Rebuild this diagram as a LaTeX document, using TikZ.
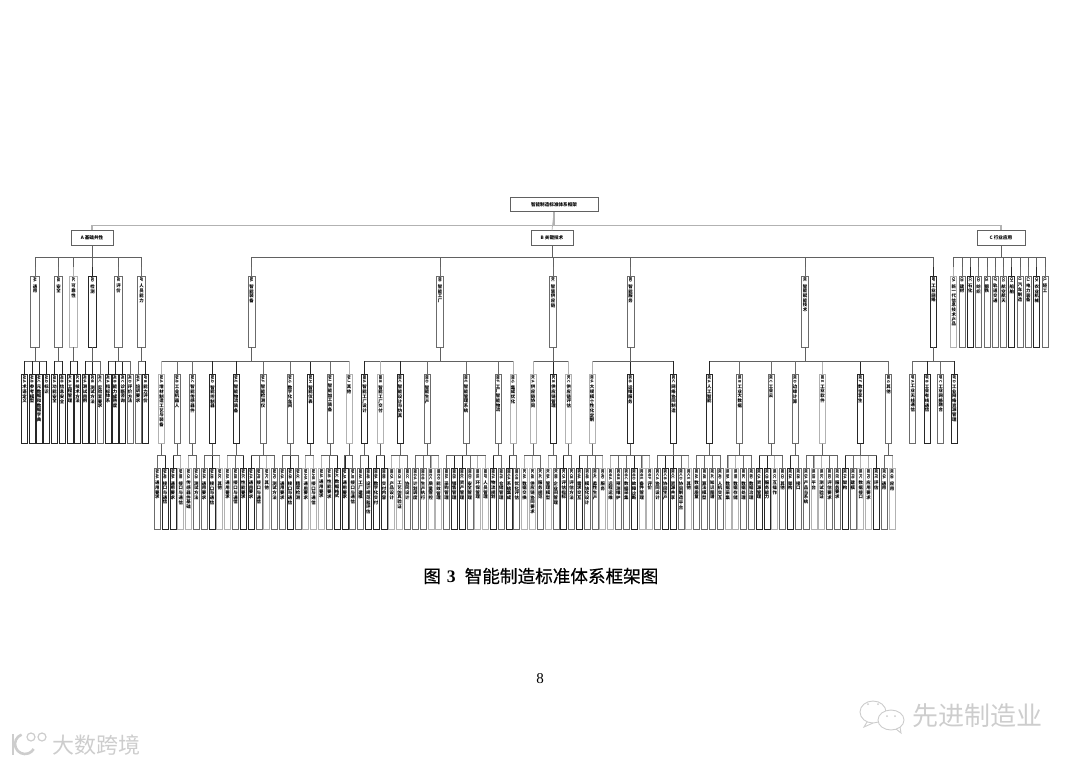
\documentclass[tikz,border=0pt]{standalone}
\usepackage{fontspec}
\usepackage{graphicx}
\setmainfont{Noto Sans CJK SC}
\newfontfamily\numfont{Liberation Serif}
\newfontfamily\capfont[FakeBold=0.5]{Noto Sans CJK SC}
\usetikzlibrary{positioning}
\definecolor{markgray}{RGB}{205,205,205}
% one character per line, code turned on its side
\def\vstack#1{\ifx#1\relax\else\hbox to\hsize{\hss#1\hss}\expandafter\vstack\fi}
\newcommand{\vtxt}[3]{\edef\vtmp{#3}\parbox[t][#1][t]{5pt}{\bfseries\fontsize{4.4}{4.7}\selectfont\kern1pt
  \hbox to\hsize{\hss\rotatebox{-90}{\fontsize{3.8}{4}\selectfont #2}\hss}\kern1pt\expandafter\vstack\vtmp\relax}}
\tikzset{
  dk/.style={draw=black!85},
  md/.style={draw=black!58},
  lt/.style={draw=black!30},
  barline/.style={draw=black!62,line width=0.8pt},
  headbox/.style={draw=black!62,line width=0.7pt,inner sep=0pt,minimum height=14.5pt,font=\bfseries\fontsize{4.6}{5}\selectfont},
  ltwobox/.style={line width=0.7pt,inner sep=0pt,anchor=north},
  lthreebox/.style={line width=0.7pt,inner sep=0pt,anchor=north,minimum width=6pt},
  lfourbox/.style={line width=0.7pt,inner sep=0pt,anchor=north,minimum width=6pt},
}
\begin{document}
\begin{tikzpicture}[x=1pt,y=-1pt,line width=0.7pt]
  \useasboundingbox (0,0) rectangle (1080,764);
  % top of the tree
  \node[headbox,minimum width=88pt] (top) at (554,204.5) {智能制造标准体系框架};
  \node[headbox,minimum width=42pt] (A) at (92,238) {A 基础共性};
  \node[headbox,minimum width=42pt] (B) at (552,238) {B 关键技术};
  \node[headbox,minimum width=48pt] (C) at (1001,238) {C 行业应用};
  \foreach \nm in {A,C}
    \draw[lt,line width=1.1pt] (top.south) -- ++(0,13) -| (\nm.north);
  \draw[lt] (top.south) -- (B.north);
  % second level
  \foreach \up/\nm/\x/\bw/\txt/\sh in {
    A/AA/35/9/通用/md,A/AB/58.5/8.5/安全/md,A/AC/73.5/8.5/可靠性/lt,A/AD/92.5/8/检测/dk,A/AE/118.5/8/评价/md,A/AF/141.5/8.5/人员能力/md,
    B/BA/251.5/7/智能装备/md,B/BB/440/6.5/智能工厂/md,B/BC/553/7/智慧供应链/md,B/BD/630.5/7/智能服务/md,B/BE/805/7.5/智能赋能技术/md,B/BF/933.5/6.5/工业网络/dk,
    C/CA/953.7/6/新一代信息技术产品/lt,C/CB/962/6/建材/md,C/CC/970.3/6/石化/dk,C/CD/978.6/6/纺织/md,C/CE/986.9/6/钢铁/md,C/CF/995.2/6/轨道交通/md,
    C/CG/1003.5/6/航空航天/md,C/CH/1011.8/6/船舶/dk,C/CI/1020.1/6/汽车制造/md,C/CJ/1028.4/6/电力装备/md,C/CK/1036.7/6/农业机械/dk,C/CL/1045/6/轻工/md}{
    \node[ltwobox,\sh,minimum width=\bw pt] (\nm) at (\x,276) {\vtxt{70.5pt}{\nm}{\txt}};
    \draw[barline] (\up.south) -- ++(0,11.5) -| (\nm.north);
    \draw[\sh] (\nm.north) -- ++(0,-9);
  }
  % third level
  \foreach \up/\nm/\x/\txt/\sh in {
    AA/AAA/24.5/术语定义/dk,AA/AAB/32/参考模型/dk,AA/AAC/39/元数据和数据字典/dk,AA/AAD/46.5/标识/dk,
    AB/ABA/54.5/功能安全/dk,AB/ABB/62/信息安全/dk,AC/ACA/70/工程管理/dk,AC/ACB/77.5/技术方法/dk,
    AD/ADA/85/测试用例/dk,AD/ADB/92.5/测试方法/dk,AD/ADC/100/实验室要求/md,
    AE/AEA/108/指标体系/dk,AE/AEB/115/能力成熟度/dk,AE/AEC/122.7/诊断咨询/dk,AE/AED/130/评价方法/md,
    AF/AFA/138/培训要求/md,AF/AFB/145.5/能力评价/dk,
    BA/BAA/161.5/增材制造工艺与装备/lt,BA/BAB/177/工业机器人/md,BA/BAC/192.5/智能传感器件/md,BA/BAD/212.5/智能控制器/dk,BA/BAE/236/智能物流装备/dk,
    BA/BAF/263/智能检测仪/md,BA/BAG/290/数字化车间/md,BA/BAH/310.5/智能仪表/dk,BA/BAI/330/智能加工装备/md,BA/BAJ/349/其他/lt,
    BB/BBA/364.5/智能工厂设计/dk,BB/BBB/380.5/智能工厂交付/lt,BB/BBC/400/智能设计与仿真/dk,BB/BBD/427/智能生产/md,BB/BBE/466/智能管理系统/md,BB/BBF/498/工厂智能物流/md,BB/BBG/513/集成优化/lt,
    BC/BCA/533/供应链协同/lt,BC/BCB/553.5/供应链管理/dk,BC/BCC/568.7/供应链评估/lt,
    BD/BDA/592/大规模个性化定制/lt,BD/BDB/630.3/运维服务/dk,BD/BDC/673.5/网络协同制造/dk,
    BE/BEA/709.3/人工智能/dk,BE/BEB/739.8/工业大数据/md,BE/BEC/771/工业云/md,BE/BED/795/边缘计算/md,BE/BEE/822.5/工业软件/lt,BE/BEF/860.3/数字孪生/dk,BE/BEG/888.5/其他/md,
    BF/BFA/912.8/工业无线通信/md,BF/BFB/927/工业有线通信/dk,BF/BFC/940.8/工业网络融合/md,BF/BFD/954.3/工业网络资源管理/dk}{
    \node[lthreebox,\sh] (\nm) at (\x,374) {\vtxt{69pt}{\nm}{\txt}};
    \draw[barline] (\up.south) -- ++(0,14) -| (\nm.north);
    \draw[\sh] (\nm.north) -- ++(0,-13);
  }
  % fourth level, evenly spaced
  \foreach \up/\nm/\txt/\sh [count=\i from 0] in {
    BAA/BAAA/通用要求/md,BAA/BAAB/接口与通信/dk,BAB/BABA/通用要求/dk,BAB/BABB/接口与通信/lt,BAC/BACA/传感器件基础/lt,BAC/BACB/测试方法/md,
    BAD/BADA/通用要求/md,BAD/BADB/接口与通信/dk,BAD/BADC/其他/lt,BAE/BAEA/通用要求/lt,BAE/BAEB/接口与通信/md,BAE/BAEC/性能要求/dk,
    BAF/BAFA/通用要求/dk,BAF/BAFB/接口与通信/md,BAF/BAFC/其他/lt,BAF/BAFD/测试方法/md,BAG/BAGA/通用要求/md,BAG/BAGB/接口与通信/dk,BAG/BAGC/精度检测/md,
    BAH/BAHA/通用要求/lt,BAH/BAHB/接口与通信/lt,BAI/BAIA/通用要求/lt,BAI/BAIB/性能要求/md,BAI/BAIC/数据格式/dk,BAJ/BAJA/通用要求/dk,BAJ/BAJB/接口与通信/md,
    BBA/BBAA/工厂建模/md,BBA/BBAB/设计规范和评估/dk,BBB/BBBA/数字化交付/dk,BBB/BBBB/交付内容/dk,BBC/BBCA/产品设计/lt,BBC/BBCB/工艺仿真验证/lt,BBC/BBCC/协同设计/md,
    BBD/BBDA/计划调度/md,BBD/BBDB/生产执行/md,BBD/BBDC/质量管控/lt,BBD/BBDD/能效管理/lt,BBE/BBEA/采购管理/md,BBE/BBEB/销售管理/dk,BBE/BBEC/资产管理/dk,BBE/BBED/安全管理/md,BBE/BBEE/环保管理/lt,BBE/BBEF/人员管理/lt,
    BBF/BBFA/物流规划/dk,BBF/BBFB/仓储管理/md,BBG/BBGA/系统集成/dk,BBG/BBGB/优化评估/md,
    BCA/BCAA/数据交换/lt,BCA/BCAB/供应链协同要求/lt,BCA/BCAC/服务规范/md,BCB/BCBA/管理模型/lt,BCB/BCBB/企业间管理/md,BCC/BCCA/评估指标/dk,BCC/BCCB/评估方法/md,
    BDA/BDAA/需求交互/dk,BDA/BDAB/模块化设计/md,BDA/BDAC/柔性生产/md,BDA/BDAD/服务/lt,BDB/BDBA/远程运维/lt,BDB/BDBB/预测维护/md,BDB/BDBC/数据采集/md,BDB/BDBD/故障诊断/dk,BDB/BDBE/备件管理/lt,BDB/BDBF/评价/lt,
    BDC/BDCA/协同设计/md,BDC/BDCB/协同生产/dk,BDC/BDCC/资源共享/dk,BDC/BDCD/协同制造平台/md,BDC/BDCE/其他/lt,
    BEA/BEAA/数据质量/md,BEA/BEAB/算法模型/md,BEA/BEAC/知识图谱/md,BEA/BEAD/人机交互/md,
    BEB/BEBA/数据采集/lt,BEB/BEBB/数据存储/lt,BEB/BEBC/数据处理/md,BEB/BEBD/数据治理/md,
    BEC/BECA/资源管理/dk,BEC/BECB/服务能力/dk,BEC/BECC/互操作/lt,BEC/BECD/其他/md,BED/BEDA/架构/dk,BED/BEDB/接口/md,
    BEE/BEEA/产品与系统/md,BEE/BEEB/平台/lt,BEE/BEEC/测试验证/lt,BEE/BEED/评估要求/md,BEE/BEEE/服务要求/md,
    BEF/BEFA/架构/dk,BEF/BEFB/建模/md,BEF/BEFC/数据接口/lt,BEF/BEFD/应用要求/lt,BEF/BEFE/评估/dk,BEG/BEGA/通用/md,BEG/BEGB/应用/lt}{
    \node[lfourbox,\sh] (\nm) at (157.3+7.816*\i,467.7) {\vtxt{61.5pt}{\nm}{\txt}};
    \draw[barline] (\up.south) -- ++(0,12) -| (\nm.north);
    \draw[\sh] (\nm.north) -- ++(0,-12);
  }
  % caption and page number
  \node[anchor=west,inner sep=0pt,font=\capfont\fontsize{17.6}{18}\selectfont] (cap) at (423,576) {图\hspace{6pt}{\numfont\bfseries 3}\hspace{9pt}智能制造标准体系框架图};
  \node[inner sep=0pt,font=\numfont\fontsize{15}{16}\selectfont] (pageno) at (540,679) {8};
  % marks in the corners
  \node[anchor=west,inner sep=0pt,text=markgray,font=\fontsize{26}{27}\selectfont] (markR) at (912,716) {先进制造业};
  \node[anchor=west,inner sep=0pt,text=markgray,font=\fontsize{22}{23}\selectfont] (markL) at (52,745) {大数跨境};
  \draw[markgray,line width=0.9pt] (873,712) ellipse (13 and 11);
  \draw[markgray,line width=0.9pt] (867,722) -- (864,727) -- (873,723);
  \draw[markgray,line width=0.9pt,fill=white] (891,720) ellipse (13 and 10);
  \draw[markgray,line width=0.9pt] (896,729) -- (901,733) -- (900,727);
  \foreach \x in {868,878}
    \fill[markgray] (\x,704) circle (1);
  \foreach \x in {887,895}
    \fill[markgray] (\x,716) circle (1);
  \draw[markgray,line width=2.6pt] (13,734) -- (13,755);
  \draw[markgray,line width=2.6pt] (21.6,734.6) arc (250:30:10);
  \draw[markgray,line width=1.2pt] (31,737) circle (4) (42,737) circle (4);
\end{tikzpicture}
\end{document}
